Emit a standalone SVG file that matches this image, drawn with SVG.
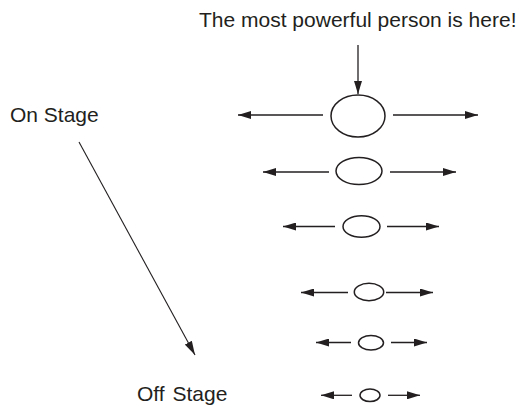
<svg xmlns="http://www.w3.org/2000/svg" width="522" height="405" viewBox="0 0 522 405">
  <style>
    .lbl { font-family: "Liberation Sans", Arial, sans-serif; font-size: 21px; fill: #231f20; }
    .conn line { stroke: #231f20; stroke-width: 1.3; marker-end: url(#head); }
    .person ellipse { fill: none; stroke: #231f20; stroke-width: 1.5; }
  </style>
  <defs>
    <marker id="head" markerUnits="userSpaceOnUse" markerWidth="13" markerHeight="8" refX="13" refY="4" orient="auto">
      <path d="M0,0 L13,4 L0,8 z" fill="#231f20"/>
    </marker>
    <marker id="headSlim" markerUnits="userSpaceOnUse" markerWidth="14" markerHeight="8" refX="14" refY="4" orient="auto">
      <path d="M0,0 L14,4 L0,8 z" fill="#231f20"/>
    </marker>
  </defs>

  <rect width="522" height="405" fill="#ffffff"/>

  <!-- labels -->
  <g id="title"><text class="lbl" x="199" y="27">The most powerful person is here!</text></g>
  <g id="on-stage"><text class="lbl" x="10" y="122">On Stage</text></g>
  <g id="off-stage"><text class="lbl" x="137" y="401" word-spacing="2">Off Stage</text></g>

  <!-- people, largest (on stage) to smallest (off stage) -->
  <g id="person-1" class="person"><ellipse cx="358" cy="116" rx="27" ry="21"/></g>
  <g id="person-2" class="person"><ellipse cx="359" cy="171" rx="23" ry="13.5"/></g>
  <g id="person-3" class="person"><ellipse cx="361.5" cy="226.5" rx="18.5" ry="10.7"/></g>
  <g id="person-4" class="person"><ellipse cx="369" cy="292" rx="14.7" ry="8.7"/></g>
  <g id="person-5" class="person"><ellipse cx="371" cy="342.7" rx="12.5" ry="7.3"/></g>
  <g id="person-6" class="person"><ellipse cx="370" cy="395.3" rx="10" ry="6.3"/></g>

  <!-- connectors -->
  <g id="connectors" class="conn">
    <line x1="358" y1="45" x2="358" y2="94"/>
    <line x1="323" y1="115" x2="238" y2="115"/>
    <line x1="393" y1="115" x2="478" y2="115"/>
    <line x1="329" y1="172" x2="263" y2="172"/>
    <line x1="390" y1="172" x2="456" y2="172"/>
    <line x1="335" y1="226.5" x2="283" y2="226.5"/>
    <line x1="387" y1="226.5" x2="439" y2="226.5"/>
    <line x1="348" y1="292.5" x2="301" y2="292.5"/>
    <line x1="386" y1="292.5" x2="433" y2="292.5"/>
    <line x1="351" y1="342.5" x2="316" y2="342.5"/>
    <line x1="391" y1="342.5" x2="427" y2="342.5"/>
    <line x1="352" y1="395.3" x2="321" y2="395.3"/>
    <line x1="388" y1="395.3" x2="420" y2="395.3"/>
    <line x1="79" y1="142" x2="195" y2="355" style="stroke-width:1.1; marker-end:url(#headSlim)"/>
  </g>
</svg>
